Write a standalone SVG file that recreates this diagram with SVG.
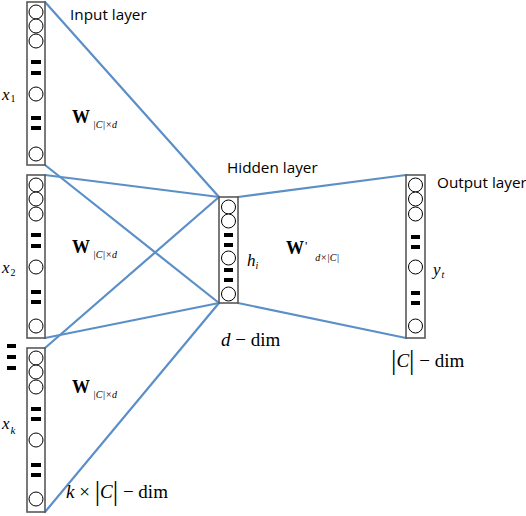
<svg xmlns="http://www.w3.org/2000/svg" width="526" height="516" viewBox="0 0 526 516">
<style>
.col{fill:#fff;stroke:#595959;stroke-width:1.6}
.c{fill:#fff;stroke:#000;stroke-width:1}
.d{fill:#000}
.conn line{stroke:#5b8fc7;stroke-width:2.2;stroke-linecap:round}
.lbl{font-family:"Open Sans","Liberation Sans",sans-serif;font-size:15.3px;fill:#000}
.m{font-family:"Liberation Serif","DejaVu Serif",serif;fill:#000}
.it{font-style:italic}
.W{font-weight:bold;font-size:18px}
.sub{font-size:10px;font-style:italic}
.dim{font-size:19px}
</style>
<rect width="526" height="516" fill="#fff"/>
<g id="connectors" class="conn">
<line x1="45" y1="2" x2="219" y2="197"/>
<line x1="45" y1="165" x2="219" y2="303"/>
<line x1="45" y1="175" x2="219" y2="197"/>
<line x1="45" y1="338" x2="219" y2="303"/>
<line x1="45" y1="348" x2="219" y2="197"/>
<line x1="45" y1="512" x2="219" y2="303"/>
<line x1="238" y1="197" x2="406" y2="175"/>
<line x1="238" y1="303" x2="406" y2="338"/>
</g>
<g id="input1">
<rect class="col" x="27" y="2" width="18" height="163"/>
<circle class="c" cx="36" cy="12" r="7"/><circle class="c" cx="36" cy="26" r="7"/><circle class="c" cx="36" cy="41" r="7"/>
<rect class="d" x="31" y="60" width="10" height="4"/><rect class="d" x="31" y="71" width="10" height="4"/>
<circle class="c" cx="36" cy="94" r="7"/>
<rect class="d" x="31" y="116" width="10" height="4"/><rect class="d" x="31" y="126" width="10" height="4"/>
<circle class="c" cx="36" cy="154" r="7"/>
</g>
<g id="input2">
<rect class="col" x="27" y="175" width="18" height="163"/>
<circle class="c" cx="36" cy="185" r="7"/><circle class="c" cx="36" cy="199" r="7"/><circle class="c" cx="36" cy="214" r="7"/>
<rect class="d" x="31" y="233" width="10" height="4"/><rect class="d" x="31" y="244" width="10" height="4"/>
<circle class="c" cx="36" cy="267" r="7"/>
<rect class="d" x="31" y="290" width="10" height="4"/><rect class="d" x="31" y="300" width="10" height="4"/>
<circle class="c" cx="36" cy="326" r="7"/>
</g>
<g id="inputk">
<rect class="col" x="27" y="348" width="18" height="164"/>
<circle class="c" cx="36" cy="358" r="7"/><circle class="c" cx="36" cy="372" r="7"/><circle class="c" cx="36" cy="387" r="7"/>
<rect class="d" x="31" y="407" width="10" height="4"/><rect class="d" x="31" y="417" width="10" height="4"/>
<circle class="c" cx="36" cy="440" r="7"/>
<rect class="d" x="31" y="463" width="10" height="4"/><rect class="d" x="31" y="473" width="10" height="4"/>
<circle class="c" cx="36" cy="499" r="7"/>
</g>
<g id="ellipsis">
<rect class="d" x="7" y="344" width="9" height="4"/><rect class="d" x="7" y="355" width="9" height="4"/><rect class="d" x="7" y="366" width="9" height="4"/>
</g>
<g id="hidden">
<rect class="col" x="219" y="197" width="19" height="106"/>
<circle class="c" cx="228.5" cy="207" r="7"/><circle class="c" cx="228.5" cy="221" r="7"/>
<rect class="d" x="224" y="233" width="9" height="4"/><rect class="d" x="224" y="243" width="9" height="4"/>
<circle class="c" cx="228.5" cy="258" r="7"/>
<rect class="d" x="224" y="268" width="9" height="4"/><rect class="d" x="224" y="278" width="9" height="4"/>
<circle class="c" cx="228.5" cy="294" r="7"/>
</g>
<g id="output">
<rect class="col" x="406" y="175" width="19" height="163"/>
<circle class="c" cx="415.5" cy="185" r="7"/><circle class="c" cx="415.5" cy="199" r="7"/><circle class="c" cx="415.5" cy="214" r="7"/>
<rect class="d" x="411" y="235" width="9" height="4"/><rect class="d" x="411" y="245" width="9" height="4"/>
<circle class="c" cx="415.5" cy="267" r="7"/>
<rect class="d" x="411" y="291" width="9" height="4"/><rect class="d" x="411" y="301" width="9" height="4"/>
<circle class="c" cx="415.5" cy="326" r="7"/>
</g>
<g id="labels">
<text class="lbl" x="70" y="20">Input layer</text>
<text class="lbl" x="227" y="173">Hidden layer</text>
<text class="lbl" x="437" y="188">Output layer</text>
<text class="m it" x="2" y="100" font-size="17">x<tspan font-size="10" font-style="normal" dx="1" dy="2">1</tspan></text>
<text class="m it" x="2" y="273" font-size="17">x<tspan font-size="10" font-style="normal" dx="1" dy="3">2</tspan></text>
<text class="m it" x="2" y="429" font-size="17">x<tspan font-size="11" dx="1" dy="5">k</tspan></text>
<text class="m" x="72" y="123"><tspan class="W">W</tspan><tspan class="sub" dx="3" dy="5">|C|×d</tspan></text>
<text class="m" x="72" y="253"><tspan class="W">W</tspan><tspan class="sub" dx="3" dy="5">|C|×d</tspan></text>
<text class="m" x="72" y="393"><tspan class="W">W</tspan><tspan class="sub" dx="3" dy="5">|C|×d</tspan></text>
<text class="m" x="286" y="254"><tspan class="W">W</tspan><tspan font-size="13" dx="1" dy="-4">'</tspan><tspan class="sub" dx="8" dy="11">d×|C|</tspan></text>
<text class="m it" x="247" y="266" font-size="17">h<tspan font-size="10" dx="0" dy="3">i</tspan></text>
<text class="m it" x="433" y="275" font-size="17">y<tspan font-size="10" dx="1" dy="3">t</tspan></text>
<text class="m dim" x="221" y="346"><tspan class="it">d</tspan> − dim</text>
<text class="m dim" x="391" y="367"><tspan font-size="27" dy="2">|</tspan><tspan class="it" dy="-2">C</tspan><tspan font-size="27" dy="2">|</tspan><tspan dy="-2"> − dim</tspan></text>
<text class="m dim" x="66" y="498"><tspan class="it">k</tspan> × <tspan font-size="27" dy="2">|</tspan><tspan class="it" dy="-2">C</tspan><tspan font-size="27" dy="2">|</tspan><tspan dy="-2"> − dim</tspan></text>
</g>
</svg>
